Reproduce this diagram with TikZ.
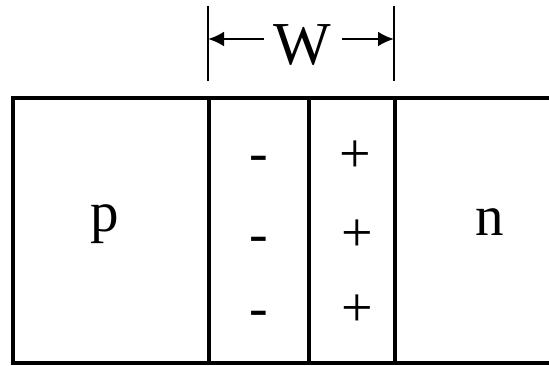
\documentclass[tikz,border=0pt]{standalone}
\usepackage{fontspec}
\setmainfont{Liberation Serif}
\usetikzlibrary{arrows.meta}
\begin{document}
\begin{tikzpicture}[x=1pt,y=-1pt,
  edge/.style={line width=3.2pt},
  dim/.style={line width=2.8pt},
  dimarrow/.style={line width=2.8pt,-{Latex[length=16pt,width=15pt]}},
  lbl/.style={inner sep=0pt,anchor=base,font=\fontsize{57}{60}\selectfont},
  big/.style={inner sep=0pt,anchor=base,font=\fontsize{61}{64}\selectfont},
  sgn/.style={inner sep=0pt,font=\fontsize{56}{60}\selectfont}]
\useasboundingbox (0,0) rectangle (549,365);
% region boundaries
\coordinate (tl) at (13,98);
\coordinate (tr) at (549,98);
\coordinate (bl) at (13,363);
\coordinate (br) at (549,363);
\coordinate (a1) at (209,98); \coordinate (a2) at (209,363);
\coordinate (b1) at (309,98); \coordinate (b2) at (309,363);
\coordinate (c1) at (395,98); \coordinate (c2) at (395,363);
\draw[edge] (tr) -- (tl) -- (bl) -- (br);
\draw[edge] (a1) -- (a2);
\draw[edge] (b1) -- (b2);
\draw[edge] (c1) -- (c2);
% dimension W
\coordinate (w1t) at (208,6); \coordinate (w1b) at (208,81);
\coordinate (w2t) at (394,6); \coordinate (w2b) at (394,81);
\draw[dim] (w1t) -- (w1b);
\draw[dim] (w2t) -- (w2b);
\node[big] (W) at (302,64) {W};
\coordinate (wl) at (208,39);
\coordinate (wr) at (394,39);
\coordinate (wls) at (264,39);
\coordinate (wrs) at (342,39);
\draw[dimarrow] (wls) -- (wl);
\draw[dimarrow] (wrs) -- (wr);
% labels
\node[lbl] (p) at (105,231) {p};
\node[lbl] (n) at (490,235) {n};
\node[sgn] (m1) at (259,164) {-};
\node[sgn] (m2) at (259,245) {-};
\node[sgn] (m3) at (259,319) {-};
\node[sgn] (q1) at (355,157) {+};
\node[sgn] (q2) at (357,236) {+};
\node[sgn] (q3) at (357,311) {+};
\end{tikzpicture}
\end{document}
